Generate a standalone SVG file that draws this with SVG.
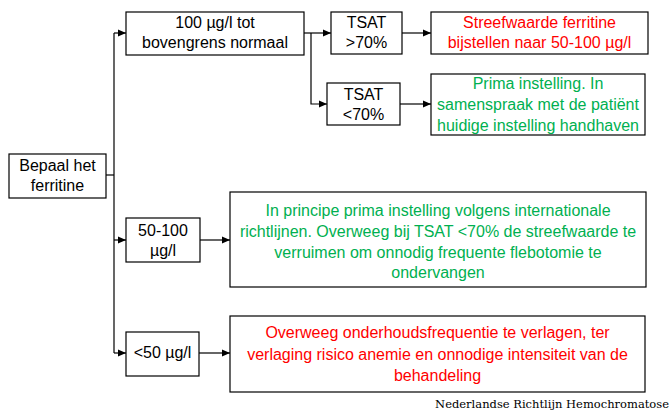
<svg xmlns="http://www.w3.org/2000/svg" width="670" height="410" viewBox="0 0 670 410">
<style>
.b{fill:#fff;stroke:#000;stroke-width:1.2}
.t{font-family:"Liberation Sans",Arial,sans-serif;font-size:16px;text-anchor:middle;fill:#000}
.g{fill:#00B050}
.r{fill:#FF0000}
.c{fill:none;stroke:#000;stroke-width:1.2}
.f{font-family:"DejaVu Serif","Liberation Serif",serif;font-size:11.5px;text-anchor:end;fill:#000}
</style>
<defs>
<marker id="ah" markerWidth="8" markerHeight="8" refX="8" refY="4" orient="auto" markerUnits="userSpaceOnUse">
<path d="M0,0.5 L8,4 L0,7.5 z" fill="#000"/>
</marker>
</defs>
<g id="connectors">
<path class="c" d="M106,175 H114"/>
<path class="c" d="M114,33 V353"/>
<path class="c" d="M114,33 H126" marker-end="url(#ah)"/>
<path class="c" d="M114,240 H126" marker-end="url(#ah)"/>
<path class="c" d="M114,353 H126" marker-end="url(#ah)"/>
<path class="c" d="M304,33 H331" marker-end="url(#ah)"/>
<path class="c" d="M311,33 V104 H327" marker-end="url(#ah)"/>
<path class="c" d="M402,33 H431" marker-end="url(#ah)"/>
<path class="c" d="M400,104 H431" marker-end="url(#ah)"/>
<path class="c" d="M200,240 H230" marker-end="url(#ah)"/>
<path class="c" d="M199,353 H230" marker-end="url(#ah)"/>
</g>
<g id="bepaal">
<rect class="b" x="9" y="154" width="97" height="44"/>
<text class="t" x="57.5" y="171">Bepaal het</text>
<text class="t" x="57.5" y="191">ferritine</text>
</g>
<g id="n100">
<rect class="b" x="126" y="12" width="178" height="43"/>
<text class="t" x="215" y="28">100 µg/l tot</text>
<text class="t" x="215" y="48">bovengrens normaal</text>
</g>
<g id="tsat-hoog">
<rect class="b" x="331" y="12" width="71" height="42"/>
<text class="t" x="366.5" y="28">TSAT</text>
<text class="t" x="366.5" y="48">&gt;70%</text>
</g>
<g id="tsat-laag">
<rect class="b" x="327" y="83" width="73" height="42"/>
<text class="t" x="363.5" y="100">TSAT</text>
<text class="t" x="363.5" y="120">&lt;70%</text>
</g>
<g id="streef">
<rect class="b" x="431" y="12" width="217" height="42"/>
<text class="t r" x="539.5" y="28">Streefwaarde ferritine</text>
<text class="t r" x="539.5" y="48">bijstellen naar 50-100 µg/l</text>
</g>
<g id="prima">
<rect class="b" x="431" y="74" width="214" height="61"/>
<text class="t g" x="538" y="89">Prima instelling. In</text>
<text class="t g" x="538" y="110">samenspraak met de patiënt</text>
<text class="t g" x="538" y="131">huidige instelling handhaven</text>
</g>
<g id="n50-100">
<rect class="b" x="126" y="218" width="74" height="44"/>
<text class="t" x="163" y="236">50-100</text>
<text class="t" x="163" y="256">µg/l</text>
</g>
<g id="principe">
<rect class="b" x="230" y="192" width="416" height="95"/>
<text class="t g" x="438" y="216">In principe prima instelling volgens internationale</text>
<text class="t g" x="438" y="237">richtlijnen. Overweeg bij TSAT &lt;70% de streefwaarde te</text>
<text class="t g" x="438" y="258">verruimen om onnodig frequente flebotomie te</text>
<text class="t g" x="438" y="278">ondervangen</text>
</g>
<g id="n50">
<rect class="b" x="126" y="332" width="73" height="44"/>
<text class="t" x="162.5" y="358">&lt;50 µg/l</text>
</g>
<g id="verlagen">
<rect class="b" x="230" y="316" width="415" height="76"/>
<text class="t r" x="437.5" y="338">Overweeg onderhoudsfrequentie te verlagen, ter</text>
<text class="t r" x="437.5" y="360">verlaging risico anemie en onnodige intensiteit van de</text>
<text class="t r" x="437.5" y="381">behandeling</text>
</g>
<text class="f" x="669" y="408">Nederlandse Richtlijn Hemochromatose</text>
</svg>
